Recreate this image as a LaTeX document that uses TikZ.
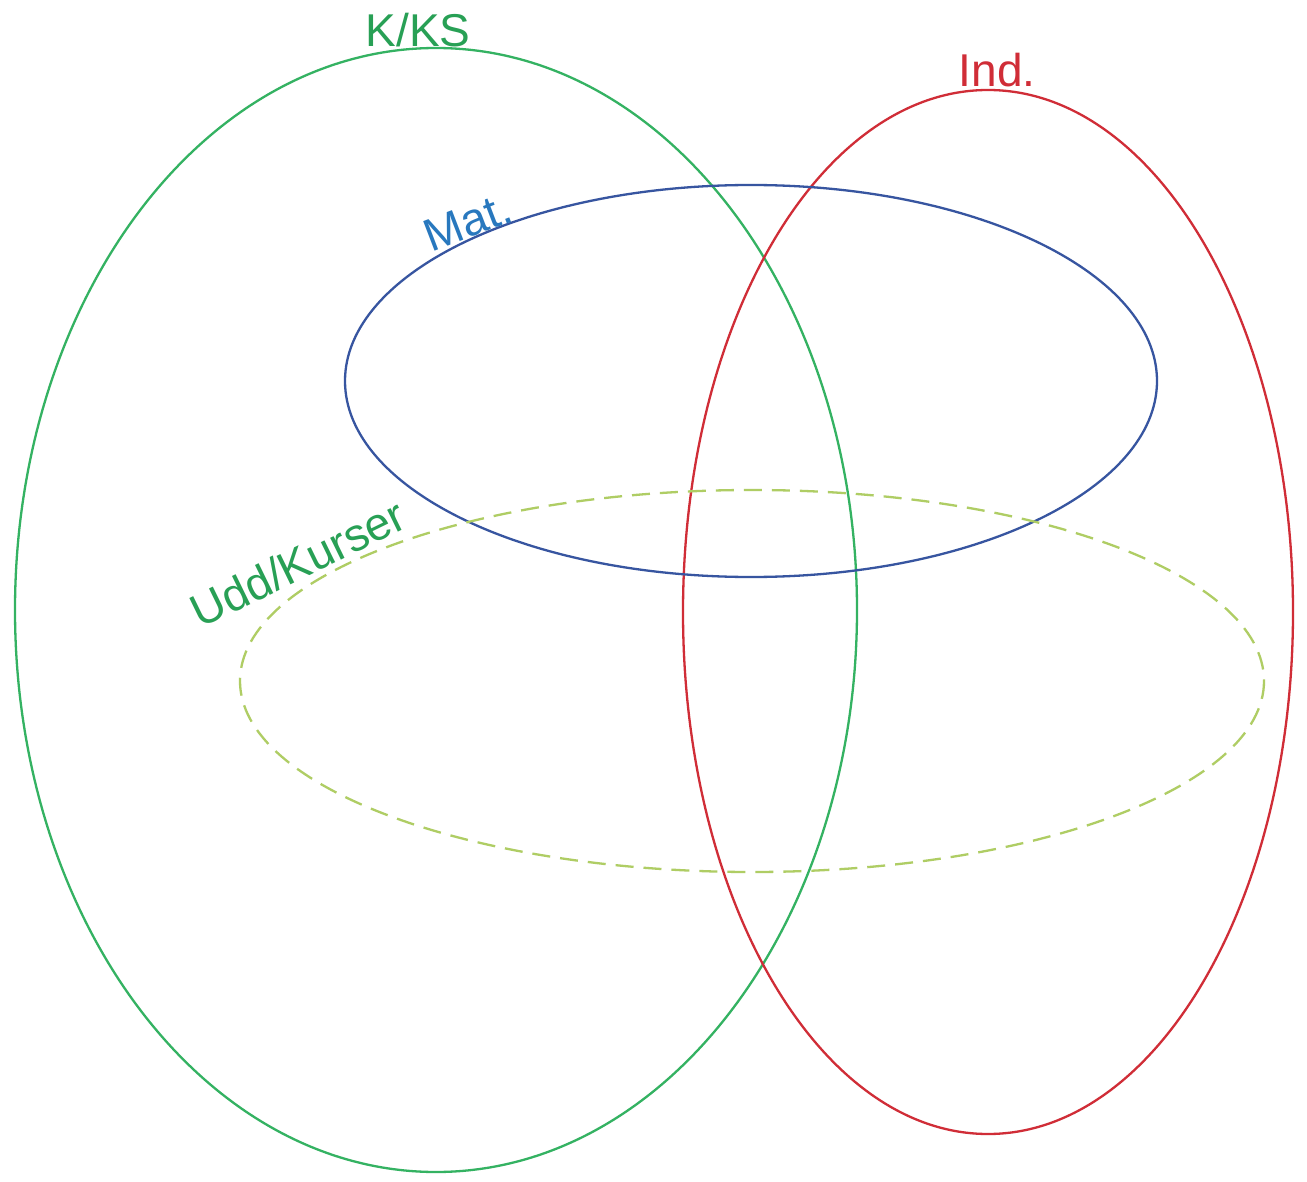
\documentclass[tikz,border=0pt]{standalone}
\usepackage{fontspec}
\setmainfont{Liberation Sans}
\definecolor{kgreen}{RGB}{52,178,98}
\definecolor{kgreentext}{RGB}{40,160,85}
\definecolor{ired}{RGB}{208,45,55}
\definecolor{mblue}{RGB}{55,85,160}
\definecolor{mbluetext}{RGB}{40,120,190}
\definecolor{uyellow}{RGB}{175,205,100}
\begin{document}
\begin{tikzpicture}[x=1pt,y=-1pt,
  lbl/.style={font=\fontsize{46}{50}\selectfont, inner sep=0pt},
  ring/.style={line width=2.3pt}]
\useasboundingbox (0,0) rectangle (1307,1182);
\fill[white] (0,0) rectangle (1307,1182);
\draw[ring, kgreen] (436,610) ellipse [x radius=421, y radius=562];
\draw[ring, ired] (988,612) ellipse [x radius=305, y radius=522];
\draw[ring, mblue] (751,381) ellipse [x radius=406, y radius=196];
\draw[ring, uyellow, dash pattern=on 18pt off 10pt] (752,681) ellipse [x radius=512, y radius=191];
\node[lbl, text=kgreentext] (kks) at (418,30) {K/KS};
\node[lbl, text=ired] (ind) at (997,70) {Ind.};
\node[lbl, text=mbluetext, rotate=21] (mat) at (468,222) {Mat.};
\node[lbl, text=kgreentext, rotate=26] (udd) at (298,563) {Udd/Kurser};
\end{tikzpicture}
\end{document}
